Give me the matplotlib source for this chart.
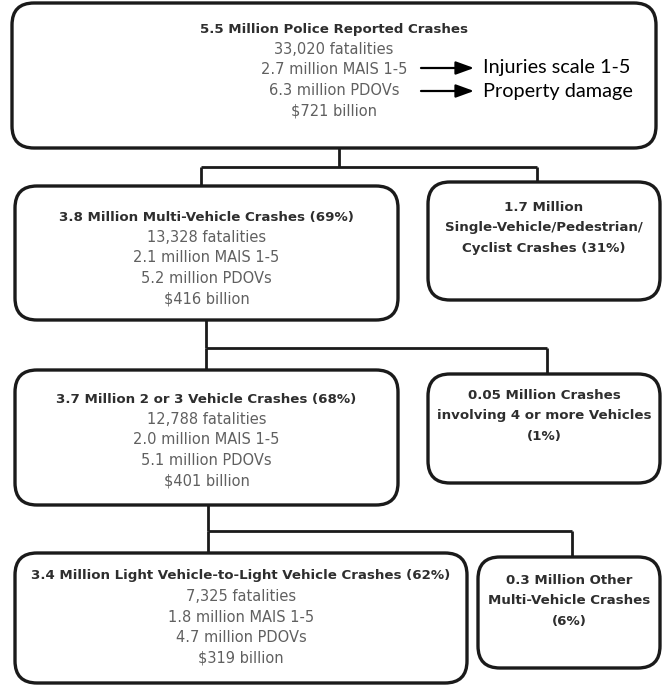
import matplotlib
matplotlib.use("Agg")
import matplotlib.pyplot as plt
from matplotlib.patches import FancyBboxPatch

# ---- data ----
titles = [
    "5.5 Million Police Reported Crashes",
    "3.8 Million Multi-Vehicle Crashes (69%)",
    "1.7 Million\nSingle-Vehicle/Pedestrian/\nCyclist Crashes (31%)",
    "3.7 Million 2 or 3 Vehicle Crashes (68%)",
    "0.05 Million Crashes\ninvolving 4 or more Vehicles\n(1%)",
    "3.4 Million Light Vehicle-to-Light Vehicle Crashes (62%)",
    "0.3 Million Other\nMulti-Vehicle Crashes\n(6%)",
]
fatalities = ["33,020", "13,328", None, "12,788", None, "7,325", None]
mais = ["2.7", "2.1", None, "2.0", None, "1.8", None]
pdovs = ["6.3", "5.2", None, "5.1", None, "4.7", None]
costs = ["721", "416", None, "401", None, "319", None]
annotations = ["Injuries scale 1-5", "Property damage"]

# ---- layout (pixels: x0, y0, x1, y1), text centre y ----
boxes = [
    (12, 3, 656, 148),
    (15, 186, 398, 320),
    (428, 182, 660, 300),
    (15, 370, 398, 505),
    (428, 374, 660, 483),
    (15, 553, 467, 683),
    (478, 557, 660, 668),
]
text_cy = [70, 258, 228, 440, 416, 617, 601]
# connectors: parent, left child, right child, x of trunk, x of left drop, x of right drop
links = [(0, 1, 2, 339, 201, 537), (1, 3, 4, 206, 206, 547), (3, 5, 6, 208, 208, 572)]

W, H = 664, 688
fig = plt.figure(figsize=(W / 100, H / 100), dpi=100)
ax = fig.add_axes([0, 0, 1, 1])
ax.set_xlim(0, W)
ax.set_ylim(H, 0)
ax.axis("off")

FONT = "DejaVu Sans"
edge = "#1a1a1a"
line_h = 20.5

for i, (x0, y0, x1, y1) in enumerate(boxes):
    p = FancyBboxPatch((x0, y0), x1 - x0, y1 - y0,
                       boxstyle="round,pad=0,rounding_size=22",
                       fc="white", ec=edge, lw=2.4, zorder=2)
    ax.add_patch(p)
    cx = (x0 + x1) / 2
    lines = [(t, True) for t in titles[i].split("\n")]
    if fatalities[i] is not None:
        lines += [(f"{fatalities[i]} fatalities", False),
                  (f"{mais[i]} million MAIS 1-5", False),
                  (f"{pdovs[i]} million PDOVs", False),
                  (f"${costs[i]} billion", False)]
    n = len(lines)
    start = text_cy[i] - (n - 1) * line_h / 2
    for k, (t, bold) in enumerate(lines):
        ax.text(cx, start + k * line_h, t, ha="center", va="center",
                fontsize=9.6 if bold else 10.5, family=FONT,
                fontweight="bold" if bold else "normal",
                color="#2e2e2e" if bold else "#606060", zorder=3)

kw = dict(color=edge, lw=2.0, zorder=1, solid_capstyle="butt")
for parent, left, right, tx, lx, rx in links:
    py = boxes[parent][3]
    ymid = py + (min(boxes[left][1], boxes[right][1]) - py) * 0.55
    ax.plot([tx, tx], [py, ymid], **kw)
    ax.plot([min(tx, lx), rx], [ymid, ymid], **kw)
    ax.plot([lx, lx], [ymid, boxes[left][1]], **kw)
    ax.plot([rx, rx], [ymid, boxes[right][1]], **kw)

# annotation arrows
for k, t in enumerate(annotations):
    y = 68 + k * 23
    ax.annotate("", xy=(474, y), xytext=(421, y),
                arrowprops=dict(arrowstyle="-|>,head_width=0.4,head_length=1.1",
                                color="black", lw=1.6, shrinkA=0, shrinkB=0),
                zorder=4)
    ax.text(483, y, t, ha="left", va="center", fontsize=14.3,
            family="Lato", color="black", zorder=4)

fig.savefig("out.png", dpi=100)
